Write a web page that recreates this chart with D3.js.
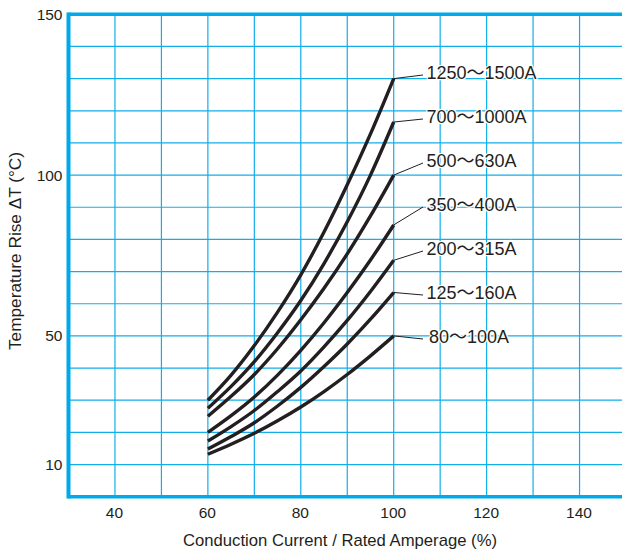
<!DOCTYPE html>
<html>
<head>
<meta charset="utf-8">
<script src="https://cdn.jsdelivr.net/npm/d3@7"></script>
<style>
  html, body { margin: 0; padding: 0; background: #fff; }
  svg { display: block; }
</style>
</head>
<body>
<svg id="chart" width="622" height="556"></svg>
<script>
// ---- Data ----
const xValues = [60, 65, 70, 75, 80, 85, 90, 95, 100];
const seriesNames = ["1250～1500A", "700～1000A", "500～630A", "350～400A", "200～315A", "125～160A", "80～100A"];
const s1250 = [30, 37.8, 47, 57.4, 69, 82.3, 97, 112.8, 130];
const s700  = [27.5, 34.3, 42, 51, 61, 72.5, 85.5, 100, 116.5];
const s500  = [25, 31.2, 38, 46, 55, 64.8, 75.5, 87.3, 100];
const s350  = [20, 25.2, 31, 37.8, 45.5, 54.1, 63.5, 73.6, 84.5];
const s200  = [17.3, 21.8, 26.8, 32.7, 39.1, 46.6, 54.8, 63.8, 73.5];
const s125  = [14.8, 18.7, 23, 28.2, 34, 40.5, 47.5, 55.2, 63.5];
const s80   = [13.2, 16.3, 19.7, 23.6, 27.9, 32.7, 38, 43.8, 50];
const seriesValues = [s1250, s700, s500, s350, s200, s125, s80];
const xTicks = [40, 60, 80, 100, 120, 140];
const yTicks = [10, 50, 100, 150];
const xGrid = [40, 50, 60, 70, 80, 90, 100, 110, 120, 130, 140];
const yGrid = [10, 20, 30, 40, 50, 60, 70, 80, 90, 100, 110, 120, 130, 140];
const xTitle = "Conduction Current / Rated Amperage (%)";
const yTitle = "Temperature Rise ΔT (°C)";

(function () {
// ---- Layout ----
const svg = d3.select("#chart");
const pLeft = 68.5, pTop = 14.3, pBottom = 496.7, pRight = 626;
const x = d3.scaleLinear().domain([30, 150]).range([pLeft, pRight]);
const y = d3.scaleLinear().domain([0, 150]).range([pBottom, pTop]);
const gridColor = "#12aee9";
const ink = "#231f20";
const font = "'Liberation Sans', 'Noto Sans CJK JP', Arial, Helvetica, sans-serif";

// grid
const grid = svg.append("g");
grid.selectAll("line.v").data(xGrid).enter().append("line")
  .attr("x1", d => x(d)).attr("x2", d => x(d))
  .attr("y1", pTop).attr("y2", pBottom)
  .attr("stroke", gridColor).attr("stroke-width", 1.2);
grid.selectAll("line.h").data(yGrid).enter().append("line")
  .attr("x1", pLeft).attr("x2", 622)
  .attr("y1", d => y(d)).attr("y2", d => y(d))
  .attr("stroke", gridColor).attr("stroke-width", 1.2);

// borders (left, top, bottom)
svg.append("line").attr("x1", pLeft).attr("x2", pLeft).attr("y1", pTop - 1.7).attr("y2", pBottom + 1.7)
  .attr("stroke", "#00a9e8").attr("stroke-width", 4);
svg.append("line").attr("x1", pLeft).attr("x2", 622).attr("y1", pTop).attr("y2", pTop)
  .attr("stroke", "#00a9e8").attr("stroke-width", 3.4);
svg.append("line").attr("x1", pLeft).attr("x2", 622).attr("y1", pBottom).attr("y2", pBottom)
  .attr("stroke", "#00a9e8").attr("stroke-width", 3.4);

// axes (text only, via d3 axis generators)
const yAxis = d3.axisLeft(y).tickValues(yTicks).tickSize(0).tickPadding(6).tickFormat(d3.format("d"));
const gy = svg.append("g").attr("transform", `translate(${pLeft},0)`).call(yAxis);
gy.select(".domain").remove();
gy.selectAll("text").attr("font-family", font).attr("font-size", 15.5).attr("fill", ink);

const xAxis = d3.axisBottom(x).tickValues(xTicks).tickSize(0).tickPadding(10).tickFormat(d3.format("d"));
const gx = svg.append("g").attr("transform", `translate(0,${pBottom})`).call(xAxis);
gx.select(".domain").remove();
gx.selectAll("text").attr("font-family", font).attr("font-size", 15.5).attr("fill", ink)
  .attr("dx", -1);

// axis titles
svg.append("text")
  .attr("x", 183).attr("y", 546)
  .attr("textLength", 314).attr("lengthAdjust", "spacingAndGlyphs")
  .attr("font-family", font).attr("font-size", 17).attr("fill", ink)
  .text(xTitle);
svg.append("text")
  .attr("transform", "translate(21,350) rotate(-90)")
  .attr("x", 0).attr("y", 0)
  .attr("textLength", 198).attr("lengthAdjust", "spacingAndGlyphs")
  .attr("font-family", font).attr("font-size", 17).attr("fill", ink)
  .text(yTitle);

// curves
const line = d3.line()
  .x((d, i) => x(xValues[i]))
  .y(d => y(d))
  .curve(d3.curveMonotoneX);
svg.append("g").selectAll("path").data(seriesValues).enter().append("path")
  .attr("d", d => line(d))
  .attr("fill", "none").attr("stroke", ink).attr("stroke-width", 3.4);

// labels with leader lines
const labelX = 426.5, labelY0 = 73, labelStep = 44;
const lab = svg.append("g");
seriesValues.forEach((vals, i) => {
  const ly = labelY0 + i * labelStep;
  const ex = x(xValues[xValues.length - 1]), ey = y(vals[vals.length - 1]);
  lab.append("line")
    .attr("x1", ex).attr("y1", ey)
    .attr("x2", labelX - 3.5).attr("y2", ly + 2)
    .attr("stroke", ink).attr("stroke-width", 1);
  lab.append("text")
    .attr("x", labelX + (i === 6 ? 2.5 : 0)).attr("y", ly)
    .attr("dy", "0.36em")
    .attr("font-family", font).attr("font-size", 18).attr("fill", ink)
    .attr("paint-order", "stroke").attr("stroke", "#fff").attr("stroke-width", 2.5)
    .text(seriesNames[i]);
});
})();
</script>
</body>
</html>
